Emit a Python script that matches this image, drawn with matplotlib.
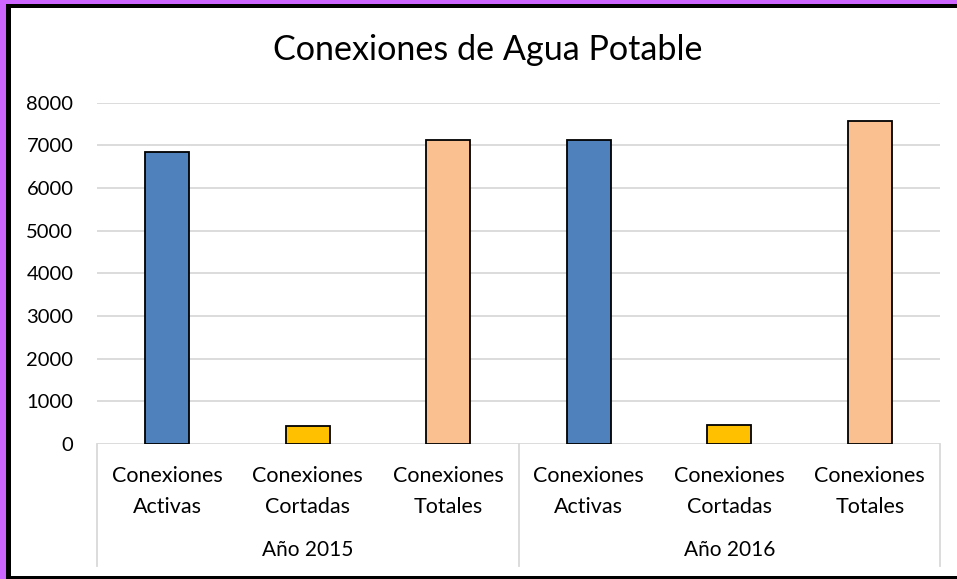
import matplotlib
matplotlib.use("Agg")
import matplotlib.pyplot as plt
from matplotlib.patches import Rectangle
from matplotlib.lines import Line2D
import matplotlib.transforms as mtransforms

# data
years = ["Año 2015", "Año 2016"]
categories = ["Conexiones\nActivas", "Conexiones\nCortadas", "Conexiones\nTotales"]
values_2015 = [6850, 430, 7130]
values_2016 = [7130, 455, 7580]
bar_colors = ["#4F81BD", "#FFC000", "#FAC090"]
yticks = [0, 1000, 2000, 3000, 4000, 5000, 6000, 7000, 8000]

plt.rcParams['font.family'] = ['Lato', 'DejaVu Sans']

W, H = 957, 579
fig = plt.figure(figsize=(W / 100, H / 100), dpi=100)
fig.patch.set_facecolor("#CC66FF")


def px(x0, y0, x1, y1):
    # pixel box (top-left origin) -> figure fraction rect
    return (x0 / W, 1 - y1 / H), (x1 - x0) / W, (y1 - y0) / H


xy, w, h = px(6, 4, 970, 590)
fig.patches.append(Rectangle(xy, w, h, transform=fig.transFigure,
                             facecolor="black", edgecolor="none", zorder=-3))
xy, w, h = px(11, 8, 970, 576)
fig.patches.append(Rectangle(xy, w, h, transform=fig.transFigure,
                             facecolor="white", edgecolor="none", zorder=-2))

left, right, bottom, top = 97, 940, 444, 102.7
ax = fig.add_axes([left / W, 1 - bottom / H, (right - left) / W, (bottom - top) / H])
ax.set_facecolor("none")
ax.set_zorder(1)

values = values_2015 + values_2016
labels = categories * 2
colors = bar_colors * 2
x = list(range(len(values)))
ax.bar(x, values, width=0.315, color=colors, edgecolor="black", linewidth=1.3, zorder=3)

ax.set_xlim(-0.5, len(values) - 0.5)
ax.set_ylim(0, 8000)
ax.set_yticks(yticks)
ax.yaxis.grid(True, color="#D9D9D9", linewidth=1.3, zorder=0)
ax.set_axisbelow(True)
for s in ax.spines.values():
    s.set_visible(False)
ax.tick_params(axis="y", length=0, pad=17, labelsize=14.5)
ax.set_xticks(x)
ax.set_xticklabels(labels, fontsize=15.5, linespacing=1.7)
ax.tick_params(axis="x", length=0, pad=16)

# group separators and year labels
trans = mtransforms.blended_transform_factory(ax.transData, ax.transAxes)
axh = bottom - top
y_low = -(566 - bottom) / axh
for xs in [-0.5, 2.5, 5.5]:
    ax.add_line(Line2D([xs, xs], [0, y_low], transform=trans, color="#D9D9D9",
                       linewidth=1.3, clip_on=False))
for i, yr in enumerate(years):
    ax.text(1 + 3 * i, -(550 - bottom) / axh, yr, transform=trans,
            ha="center", va="center", fontsize=15)

fig.text((273 + 702) / 2 / W, 1 - 50 / H, "Conexiones de Agua Potable",
         ha="center", va="center", fontsize=24.6)

fig.savefig("out.png", dpi=100, facecolor=fig.get_facecolor())
